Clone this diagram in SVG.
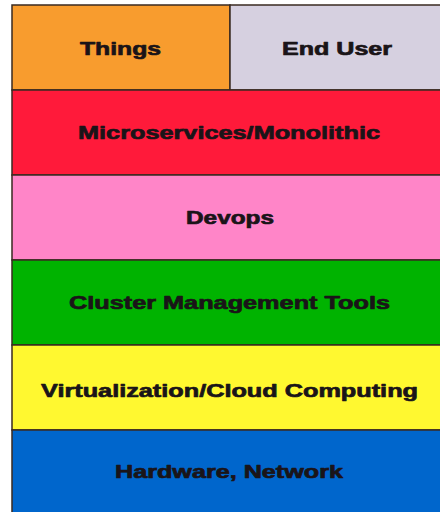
<svg xmlns="http://www.w3.org/2000/svg" width="440" height="512" viewBox="0 0 440 512">
<style>
.box{stroke:#3a2a20;stroke-width:1.5}
.lbl{font-family:"Liberation Sans",Arial,sans-serif;font-weight:bold;font-size:18.5px;fill:#1a1418;stroke:#1a1418;stroke-width:0.7;stroke-linejoin:round;text-anchor:start}
</style>
<rect width="440" height="512" fill="#ffffff"/>
<g id="things"><rect class="box" x="12" y="5" width="218" height="85" fill="#F89C2E"/><text class="lbl" x="80" y="55" textLength="81" lengthAdjust="spacingAndGlyphs">Things</text></g>
<g id="end-user"><rect class="box" x="230" y="5" width="215" height="85" fill="#D6D0E0"/><text class="lbl" x="282" y="55" textLength="110" lengthAdjust="spacingAndGlyphs">End User</text></g>
<g id="microservices"><rect class="box" x="12" y="90" width="433" height="85" fill="#FF1A3A"/><text class="lbl" x="78" y="139" textLength="302" lengthAdjust="spacingAndGlyphs">Microservices/Monolithic</text></g>
<g id="devops"><rect class="box" x="12" y="175" width="433" height="85" fill="#FF85C8"/><text class="lbl" x="186" y="224" textLength="88" lengthAdjust="spacingAndGlyphs">Devops</text></g>
<g id="cluster"><rect class="box" x="12" y="260" width="433" height="85" fill="#00B300"/><text class="lbl" x="69" y="309" textLength="321" lengthAdjust="spacingAndGlyphs">Cluster Management Tools</text></g>
<g id="virtualization"><rect class="box" x="12" y="345" width="433" height="85" fill="#FFF830"/><text class="lbl" x="41" y="397" textLength="377" lengthAdjust="spacingAndGlyphs">Virtualization/Cloud Computing</text></g>
<g id="hardware"><rect class="box" x="12" y="430" width="433" height="90" fill="#0066CC"/><text class="lbl" x="115" y="478" textLength="228" lengthAdjust="spacingAndGlyphs">Hardware, Network</text></g>
</svg>
